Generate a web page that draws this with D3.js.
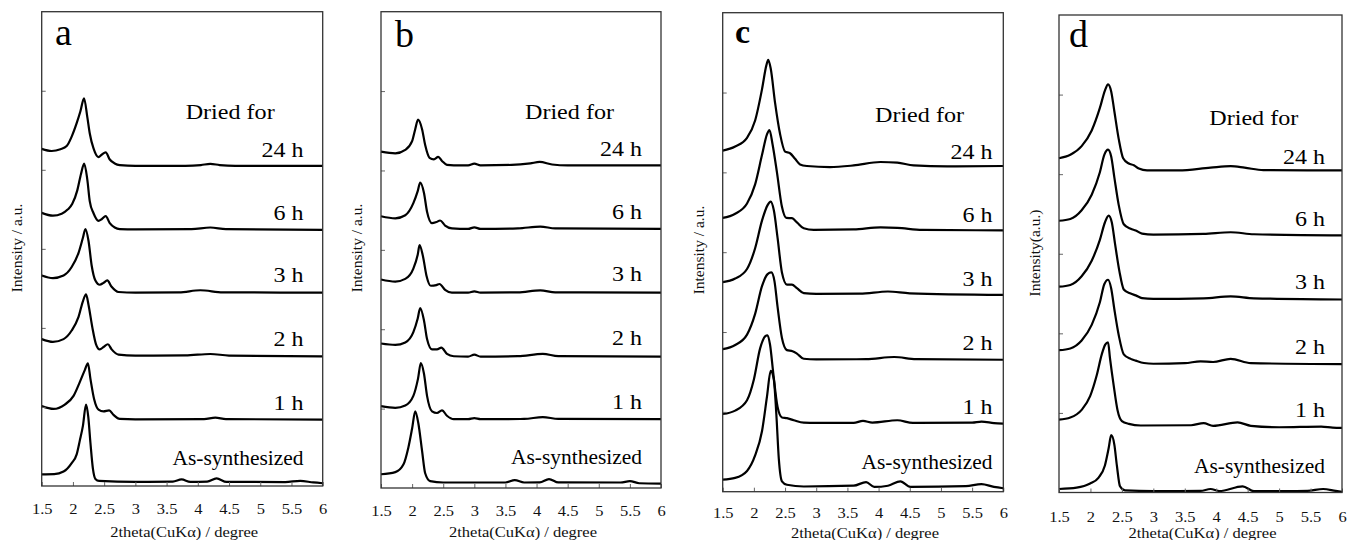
<!DOCTYPE html>
<html><head><meta charset="utf-8">
<script src="https://cdn.jsdelivr.net/npm/d3@7"></script>
<style>
html,body{margin:0;padding:0;background:#fff;}
svg{display:block;font-family:"Liberation Serif","Times New Roman",serif;}
</style></head><body>
<svg id="chart" width="1347" height="540"></svg>
<script>
// ---------- data ----------
const xTicks = [1.5, 2, 2.5, 3, 3.5, 4, 4.5, 5, 5.5, 6];
const yTicks = [1, 2, 3, 4, 5];
const seriesLabels = ["24 h", "6 h", "3 h", "2 h", "1 h", "As-synthesized"];
const panelLetters = ["a", "b", "c", "d"];
const yTitles = ["Intensity / a.u.", "Intensity / a.u.", "Intensity / a.u.", "Intensity(a.u.)"];
const xTitle = "2theta(CuK\u03b1) / degree";
const headerText = "Dried for";

// panel a  [2theta, intensity (stacked, a.u.)]
const A_24h = [[1.5,4.265],[1.66,4.238],[1.8,4.26],[1.9,4.3],[1.98,4.42],[2.06,4.59],[2.12,4.74],[2.178,4.905],[2.23,4.67],[2.27,4.46],[2.33,4.27],[2.41,4.16],[2.46,4.19],[2.525,4.22],[2.59,4.13],[2.67,4.08],[2.75,4.06],[3.0,4.05],[3.8,4.05],[4.05,4.06],[4.2,4.075],[4.35,4.06],[4.6,4.05],[6.0,4.05]];
const A_6h = [[1.5,3.455],[1.68,3.42],[1.82,3.445],[1.92,3.5],[1.99,3.57],[2.07,3.74],[2.13,3.95],[2.18,4.08],[2.23,3.88],[2.27,3.6],[2.33,3.45],[2.41,3.355],[2.46,3.375],[2.525,3.415],[2.59,3.325],[2.67,3.27],[2.75,3.25],[3.0,3.246],[3.9,3.25],[4.2,3.27],[4.45,3.25],[6.0,3.24]];
const A_3h = [[1.5,2.663],[1.68,2.63],[1.85,2.663],[1.98,2.77],[2.09,2.95],[2.16,3.14],[2.2,3.25],[2.25,3.1],[2.3,2.79],[2.36,2.6],[2.43,2.546],[2.49,2.57],[2.55,2.6],[2.62,2.52],[2.73,2.454],[3.0,2.446],[3.7,2.45],[4.04,2.476],[4.4,2.45],[6.0,2.446]];
const A_2h = [[1.5,1.858],[1.68,1.823],[1.85,1.858],[1.98,1.967],[2.09,2.14],[2.16,2.337],[2.21,2.424],[2.25,2.29],[2.31,2.01],[2.37,1.793],[2.43,1.728],[2.49,1.758],[2.56,1.793],[2.62,1.728],[2.73,1.662],[3.0,1.649],[3.8,1.652],[4.2,1.67],[4.5,1.65],[6.0,1.64]];
const A_1h = [[1.5,1.01],[1.69,0.975],[1.87,1.03],[2.01,1.14],[2.11,1.314],[2.19,1.466],[2.24,1.553],[2.28,1.358],[2.34,1.097],[2.41,0.966],[2.49,0.944],[2.58,0.957],[2.65,0.9],[2.75,0.849],[3.0,0.844],[4.1,0.846],[4.28,0.866],[4.45,0.846],[6.0,0.84]];
const A_as = [[1.5,0.148],[1.7,0.15],[1.85,0.183],[1.98,0.29],[2.06,0.4],[2.11,0.574],[2.16,0.76],[2.21,1.03],[2.245,0.88],[2.28,0.55],[2.32,0.22],[2.36,0.09],[2.42,0.065],[3.0,0.052],[3.6,0.055],[3.74,0.083],[3.88,0.052],[4.15,0.055],[4.3,0.096],[4.46,0.052],[5.4,0.05],[5.64,0.065],[5.85,0.045],[6.0,0.035]];

// panel b
const B_24h = [[1.5,4.237],[1.73,4.216],[1.89,4.26],[2.0,4.37],[2.05,4.52],[2.095,4.64],[2.16,4.52],[2.21,4.32],[2.28,4.16],[2.35,4.14],[2.42,4.17],[2.48,4.12],[2.56,4.07],[2.67,4.064],[2.9,4.064],[3.0,4.086],[3.1,4.064],[3.6,4.07],[3.9,4.09],[4.05,4.107],[4.25,4.075],[4.5,4.064],[6.0,4.064]];
const B_6h = [[1.5,3.423],[1.73,3.397],[1.89,3.436],[2.02,3.588],[2.09,3.74],[2.13,3.847],[2.19,3.72],[2.24,3.48],[2.32,3.336],[2.39,3.35],[2.45,3.37],[2.53,3.306],[2.64,3.27],[2.9,3.263],[3.0,3.284],[3.1,3.263],[3.7,3.27],[4.06,3.293],[4.3,3.27],[6.0,3.263]];
const B_3h = [[1.5,2.626],[1.73,2.6],[1.89,2.634],[2.02,2.764],[2.09,2.938],[2.12,3.06],[2.175,2.916],[2.23,2.678],[2.3,2.548],[2.39,2.556],[2.44,2.57],[2.53,2.496],[2.64,2.46],[2.9,2.461],[3.0,2.478],[3.1,2.461],[3.7,2.465],[4.06,2.49],[4.3,2.465],[6.0,2.461]];
const B_2h = [[1.5,1.82],[1.73,1.802],[1.89,1.833],[2.02,1.963],[2.09,2.136],[2.13,2.266],[2.19,2.114],[2.24,1.876],[2.32,1.746],[2.4,1.746],[2.47,1.768],[2.56,1.69],[2.67,1.66],[2.9,1.655],[3.0,1.68],[3.1,1.655],[3.7,1.66],[4.1,1.69],[4.35,1.66],[6.0,1.655]];
const B_1h = [[1.5,1.031],[1.73,1.01],[1.89,1.04],[2.02,1.161],[2.095,1.378],[2.14,1.573],[2.19,1.443],[2.24,1.161],[2.32,0.966],[2.4,0.945],[2.48,0.979],[2.56,0.91],[2.67,0.867],[2.9,0.867],[3.0,0.88],[3.1,0.867],[3.8,0.87],[4.1,0.893],[4.35,0.87],[6.0,0.867]];
const B_as = [[1.5,0.173],[1.73,0.2],[1.86,0.295],[1.94,0.511],[2.0,0.75],[2.05,0.966],[2.1,0.815],[2.16,0.468],[2.21,0.186],[2.29,0.087],[2.5,0.069],[3.5,0.069],[3.65,0.1],[3.8,0.069],[4.05,0.07],[4.2,0.113],[4.35,0.07],[5.35,0.069],[5.5,0.087],[5.65,0.06],[6.0,0.056]];

// panel c
const C_24h = [[1.5,4.273],[1.7,4.325],[1.89,4.433],[2.02,4.65],[2.13,5.04],[2.2,5.34],[2.23,5.41],[2.27,5.3],[2.34,4.87],[2.42,4.48],[2.5,4.26],[2.58,4.24],[2.66,4.17],[2.74,4.1],[2.85,4.08],[3.22,4.066],[3.6,4.087],[4.03,4.13],[4.3,4.122],[4.56,4.087],[5.1,4.074],[6.0,4.08]];
const C_6h = [[1.5,3.43],[1.7,3.482],[1.89,3.61],[2.02,3.85],[2.13,4.217],[2.21,4.477],[2.25,4.53],[2.3,4.35],[2.37,4.0],[2.45,3.568],[2.52,3.43],[2.61,3.426],[2.69,3.374],[2.8,3.3],[2.96,3.28],[3.6,3.285],[4.03,3.31],[4.3,3.305],[4.7,3.28],[6.0,3.274]];
const C_3h = [[1.5,2.625],[1.7,2.67],[1.89,2.79],[2.02,3.05],[2.13,3.395],[2.22,3.59],[2.27,3.633],[2.32,3.525],[2.38,3.18],[2.45,2.746],[2.53,2.595],[2.61,2.595],[2.69,2.55],[2.8,2.487],[3.0,2.478],[3.7,2.48],[4.15,2.508],[4.5,2.485],[6.0,2.465]];
const C_2h = [[1.5,1.786],[1.7,1.838],[1.89,1.968],[2.02,2.227],[2.13,2.574],[2.22,2.725],[2.28,2.747],[2.33,2.638],[2.38,2.314],[2.45,1.925],[2.53,1.773],[2.62,1.76],[2.69,1.73],[2.8,1.665],[3.0,1.657],[3.8,1.66],[4.25,1.687],[4.6,1.66],[6.0,1.653]];
const C_1h = [[1.5,0.973],[1.7,1.016],[1.89,1.146],[2.0,1.406],[2.1,1.795],[2.18,1.946],[2.22,1.96],[2.26,1.838],[2.31,1.492],[2.38,1.06],[2.45,0.93],[2.53,0.921],[2.64,0.895],[2.8,0.865],[3.0,0.861],[3.6,0.862],[3.75,0.887],[3.9,0.866],[4.3,0.895],[4.55,0.862],[5.5,0.865],[5.65,0.878],[5.85,0.86],[6.0,0.852]];
const C_as = [[1.5,0.151],[1.7,0.173],[1.89,0.26],[2.02,0.454],[2.13,0.757],[2.21,1.19],[2.27,1.514],[2.32,1.406],[2.36,0.973],[2.4,0.411],[2.45,0.13],[2.53,0.087],[2.8,0.065],[3.6,0.075],[3.8,0.121],[3.93,0.06],[4.15,0.075],[4.35,0.13],[4.51,0.06],[5.4,0.07],[5.65,0.095],[5.85,0.06],[6.0,0.043]];

// panel d
const D_24h = [[1.5,4.2],[1.68,4.243],[1.86,4.352],[2.02,4.549],[2.15,4.832],[2.23,5.05],[2.28,5.129],[2.33,5.04],[2.38,4.79],[2.45,4.44],[2.52,4.2],[2.61,4.134],[2.69,4.112],[2.77,4.07],[2.9,4.047],[3.4,4.047],[3.91,4.082],[4.23,4.1],[4.45,4.082],[4.75,4.05],[6.0,4.047]];
const D_6h = [[1.5,3.415],[1.68,3.437],[1.86,3.546],[2.02,3.742],[2.15,4.025],[2.22,4.243],[2.28,4.309],[2.33,4.222],[2.38,3.96],[2.45,3.611],[2.53,3.371],[2.64,3.314],[2.72,3.293],[2.82,3.253],[3.0,3.24],[3.8,3.25],[4.23,3.27],[4.6,3.245],[6.0,3.232]];
const D_3h = [[1.5,2.586],[1.68,2.608],[1.86,2.717],[2.02,2.913],[2.15,3.175],[2.23,3.393],[2.29,3.48],[2.34,3.393],[2.39,3.131],[2.46,2.782],[2.53,2.551],[2.64,2.499],[2.72,2.477],[2.82,2.442],[3.0,2.433],[3.8,2.44],[4.23,2.464],[4.6,2.44],[6.0,2.425]];
const D_2h = [[1.5,1.788],[1.68,1.81],[1.86,1.91],[2.02,2.106],[2.15,2.39],[2.22,2.617],[2.28,2.673],[2.33,2.564],[2.38,2.303],[2.45,1.976],[2.53,1.736],[2.64,1.679],[2.72,1.657],[2.85,1.627],[3.0,1.618],[3.5,1.625],[3.75,1.648],[3.95,1.64],[4.23,1.679],[4.55,1.625],[6.0,1.614]];
const D_1h = [[1.5,0.916],[1.68,0.942],[1.86,1.038],[1.995,1.212],[2.1,1.474],[2.18,1.736],[2.235,1.858],[2.28,1.888],[2.31,1.692],[2.37,1.343],[2.43,1.038],[2.5,0.898],[2.61,0.863],[2.8,0.842],[3.6,0.845],[3.8,0.872],[3.95,0.838],[4.34,0.881],[4.55,0.838],[5.0,0.82],[5.67,0.829],[5.85,0.815],[6.0,0.811]];
const D_as = [[1.5,0.044],[1.78,0.061],[1.995,0.113],[2.13,0.188],[2.23,0.34],[2.29,0.558],[2.33,0.72],[2.38,0.602],[2.42,0.34],[2.47,0.078],[2.55,0.026],[3.0,0.017],[3.75,0.02],[3.91,0.044],[4.05,0.017],[4.42,0.078],[4.6,0.017],[5.45,0.02],[5.7,0.044],[5.9,0.02],[6.0,0.009]];

const panelSeries = [
  [A_24h, A_6h, A_3h, A_2h, A_1h, A_as],
  [B_24h, B_6h, B_3h, B_2h, B_1h, B_as],
  [C_24h, C_6h, C_3h, C_2h, C_1h, C_as],
  [D_24h, D_6h, D_3h, D_2h, D_1h, D_as]
];

// ---------- layout ----------
const layout = [
  {left:41.7, right:322.7, top:11.7, bottom:486, tickY:509, titleY:531.5, yT:[16.7,248],
   letter:[55,45,38,"normal"], header:[185.7,119], labelRight:303.5,
   labelY:[156.9,219.8,282.4,346,409.7,464.7]},
  {left:381, right:661, top:11.7, bottom:488, tickY:510.5, titleY:532, yT:[356.7,248],
   letter:[395,47,38,"normal"], header:[525,119], labelRight:642,
   labelY:[155.8,218.7,280.6,344.9,408.9,463.9]},
  {left:722.7, right:1003.3, top:12.7, bottom:491.7, tickY:513, titleY:532.5, yT:[698,250],
   letter:[735,43,34,"bold"], header:[875,122.2], labelRight:992.5,
   labelY:[159.1,222.3,285.5,350,414,469.2]},
  {left:1059, right:1342, top:15, bottom:492.5, tickY:516.5, titleY:532.5, yT:[1034,253],
   letter:[1069,47,38,"normal"], header:[1209.3,125.3], labelRight:1325,
   labelY:[163.5,226,289,354.4,416.8,473]}
];
const labelWidths = {"24 h":42, "As-synthesized":131};
const singleWidth = 30, headerWidth = 89, xTitleWidth = 148;
const HS = 1.1; // horizontal stretch of the original figure text

const svg = d3.select("#chart");

layout.forEach((L, pi) => {
  const x = d3.scaleLinear().domain([1.5, 6]).range([L.left, L.right]);
  const y = d3.scaleLinear().domain([0, 6]).range([L.bottom, L.top]);
  const g = svg.append("g");

  // curves
  const line = d3.line().x(d => x(d[0])).y(d => y(d[1])).curve(d3.curveMonotoneX);
  g.selectAll("path.curve").data(panelSeries[pi]).join("path")
    .attr("class", "curve")
    .attr("d", line)
    .attr("fill", "none")
    .attr("stroke", "#000")
    .attr("stroke-width", 2.2)
    .attr("stroke-linejoin", "round");

  // bottom axis (inner ticks)
  const xa = g.append("g").attr("transform", `translate(0,${L.bottom})`)
    .call(d3.axisBottom(x).tickValues(xTicks).tickSize(-4).tickFormat(d3.format("")));
  xa.select(".domain").remove();
  xa.selectAll(".tick line").attr("stroke", "#666").attr("stroke-width", 1);
  xa.selectAll(".tick text")
    .attr("y", 0).attr("dy", null)
    .attr("transform", `translate(0,${L.tickY - L.bottom}) scale(${HS},1)`)
    .attr("dominant-baseline", "central")
    .attr("font-size", 15)
    .attr("font-family", "Liberation Serif")
    .attr("fill", "#111");

  // left axis (inner ticks, no labels)
  const ya = g.append("g").attr("transform", `translate(${L.left},0)`)
    .call(d3.axisLeft(y).tickValues(yTicks).tickSize(-4).tickFormat(""));
  ya.select(".domain").remove();
  ya.selectAll(".tick line").attr("stroke", "#666").attr("stroke-width", 1);

  // frame
  g.append("rect")
    .attr("x", L.left).attr("y", L.top)
    .attr("width", L.right - L.left).attr("height", L.bottom - L.top)
    .attr("fill", "none").attr("stroke", "#333").attr("stroke-width", 1.3);

  // x title
  const cx = (L.left + L.right) / 2 + 2;
  g.append("text")
    .attr("x", cx - xTitleWidth / 2).attr("y", L.titleY)
    .attr("dominant-baseline", "central")
    .attr("font-size", 14.5).attr("fill", "#111")
    .attr("textLength", xTitleWidth).attr("lengthAdjust", "spacingAndGlyphs")
    .text(xTitle);

  // y title
  g.append("text")
    .attr("transform", `translate(${L.yT[0]},${L.yT[1]}) rotate(-90)`)
    .attr("text-anchor", "middle").attr("dominant-baseline", "central")
    .attr("font-size", 15.5).attr("fill", "#111")
    .text(yTitles[pi]);

  // panel letter
  g.append("text")
    .attr("x", L.letter[0]).attr("y", L.letter[1])
    .attr("font-size", L.letter[2]).attr("font-weight", L.letter[3])
    .attr("fill", "#000")
    .text(panelLetters[pi]);

  // header
  g.append("text")
    .attr("x", L.header[0]).attr("y", L.header[1])
    .attr("font-size", 21).attr("fill", "#000")
    .attr("textLength", headerWidth).attr("lengthAdjust", "spacingAndGlyphs")
    .text(headerText);

  // series labels
  seriesLabels.forEach((lab, si) => {
    const w = labelWidths[lab] || singleWidth;
    g.append("text")
      .attr("x", L.labelRight - w).attr("y", L.labelY[si])
      .attr("font-size", 21).attr("fill", "#000")
      .attr("textLength", w).attr("lengthAdjust", "spacingAndGlyphs")
      .text(lab);
  });
});
</script>
</body></html>
